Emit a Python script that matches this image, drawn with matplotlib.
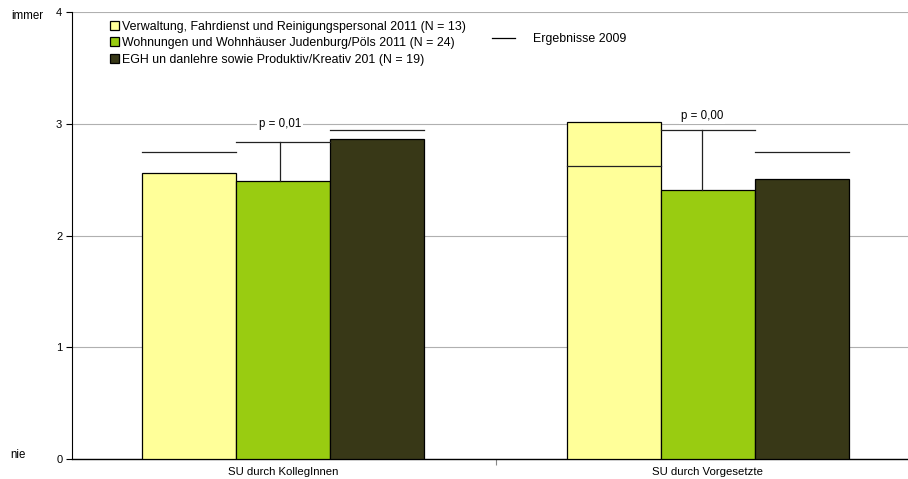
import matplotlib
matplotlib.use("Agg")
import matplotlib.pyplot as plt
from matplotlib.lines import Line2D
import numpy as np

plt.rcParams['font.family'] = ['Liberation Sans', 'DejaVu Sans']

categories = ["SU durch KollegInnen", "SU durch Vorgesetzte"]
series_names = [
    "Verwaltung, Fahrdienst und Reinigungspersonal 2011 (N = 13)",
    "Wohnungen und Wohnhäuser Judenburg/Pöls 2011 (N = 24)",
    "EGH un danlehre sowie Produktiv/Kreativ 201 (N = 19)",
]
values_2011 = [
    [2.56, 3.02],   # Verwaltung
    [2.49, 2.41],   # Wohnungen
    [2.86, 2.51],   # EGH
]
values_2009 = [
    [2.75, 2.62],
    [2.84, 2.94],
    [2.94, 2.75],
]
p_labels = ["p = 0,01", "p = 0,00"]
colors = ["#FFFF99", "#99CC11", "#383817"]

fig = plt.figure(figsize=(9.08, 4.79), dpi=100)
ax = fig.add_axes([72 / 908, 20 / 479, 836 / 908, 447 / 479])

x = np.arange(len(categories))
width = 0.221
offsets = [-width, 0.0, width]

for i in range(3):
    ax.bar(x + offsets[i], values_2011[i], width=width, color=colors[i],
           edgecolor="black", linewidth=0.9, zorder=3, label=series_names[i])
    for j in range(len(categories)):
        left = x[j] + offsets[i] - width / 2
        ax.plot([left, left + width], [values_2009[i][j]] * 2,
                color="#222222", linewidth=0.9, zorder=4)

# connectors between the middle bar and its 2009 value, with significance labels
conn_shift = [-0.007, -0.014]
for j in range(len(categories)):
    xc = x[j] + conn_shift[j]
    ax.plot([xc, xc], [values_2011[1][j], values_2009[1][j]],
            color="#222222", linewidth=0.9, zorder=4)

ax.text(x[0] - 0.007, 3.0, p_labels[0], ha="center", va="center", fontsize=8.3,
        zorder=5, bbox=dict(facecolor="white", edgecolor="none", pad=1.5))
ax.text(x[1] - 0.014, 3.07, p_labels[1], ha="center", va="center", fontsize=8.3,
        zorder=5, bbox=dict(facecolor="white", edgecolor="none", pad=1.5))

ax.set_xlim(-0.4965, 1.4706)
ax.set_ylim(0, 4)
ax.set_yticks([0, 1, 2, 3, 4])
ax.set_yticklabels(["0", "1", "2", "3", "4"], fontsize=8)
ax.yaxis.grid(True, color="#b0b0b0", linewidth=0.8, zorder=0)
ax.set_axisbelow(True)

ax.set_xticks([0.5])
ax.set_xticklabels([""])
ax.tick_params(axis="x", length=4, color="#888888")
ax.tick_params(axis="y", length=4, pad=3)
for j, c in enumerate(categories):
    ax.text(x[j], -0.115, c, ha="center", va="center", fontsize=8.2,
            transform=ax.transData)

ax.spines["top"].set_visible(False)
ax.spines["right"].set_visible(False)
ax.spines["left"].set_color("black")
ax.spines["bottom"].set_color("black")
ax.spines["bottom"].set_linewidth(1.0)

fig.text(11 / 908, 1 - 16 / 479, "immer", fontsize=8.3, va="center", ha="left")
fig.text(10 / 908, 1 - 455 / 479, "nie", fontsize=8.3, va="center", ha="left")

leg1 = ax.legend(loc="upper left", bbox_to_anchor=(33 / 836, 1 - 4 / 447),
                 fontsize=8.9, frameon=False, handlelength=0.75,
                 handleheight=0.75, handletextpad=0.2, labelspacing=0.35,
                 borderaxespad=0)
ax.add_artist(leg1)
h2 = [Line2D([0], [0], color="black", linewidth=0.9)]
ax.legend(h2, ["Ergebnisse 2009"], loc="upper left",
          bbox_to_anchor=(415 / 836, 1 - 16 / 447), fontsize=8.9,
          frameon=False, handlelength=1.9, handletextpad=1.4, borderaxespad=0)

fig.savefig("out.png", dpi=100)
